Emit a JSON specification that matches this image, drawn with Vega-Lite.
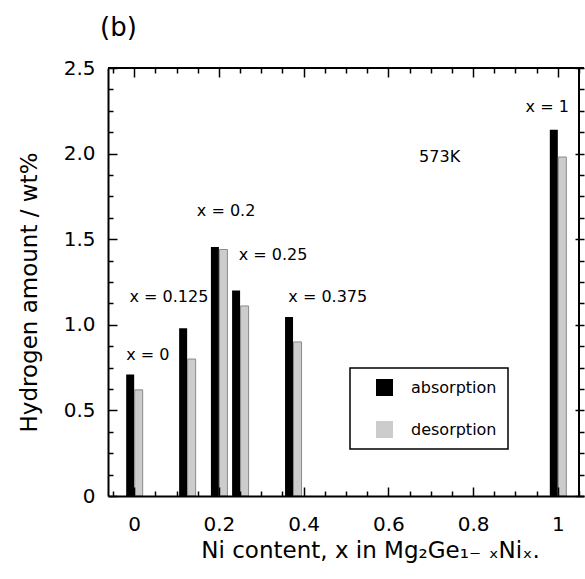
{
  "$schema": "https://vega.github.io/schema/vega-lite/v6.json",
  "autosize": "none",
  "width": 476,
  "height": 428,
  "padding": {"left": 108, "top": 68, "right": 1, "bottom": 83},
  "background": "white",
  "title": {"text": "(b)", "anchor": "start", "frame": "group", "fontSize": 26, "fontWeight": "normal", "color": "black", "dx": -8, "offset": 17},
  "config": {
    "font": "DejaVu Sans",
    "view": {"stroke": null},
    "axis": {"grid": false, "tickColor": "black", "domainColor": "black", "labelColor": "black", "titleColor": "black", "titleFontWeight": "normal"},
    "legend": {"strokeWidth": 1.5}
  },
  "datasets": {
    "bars": [
      {"x": 0, "amount": 0.71, "type": "absorption"},
      {"x": 0, "amount": 0.62, "type": "desorption"},
      {"x": 0.125, "amount": 0.98, "type": "absorption"},
      {"x": 0.125, "amount": 0.80, "type": "desorption"},
      {"x": 0.2, "amount": 1.455, "type": "absorption"},
      {"x": 0.2, "amount": 1.44, "type": "desorption"},
      {"x": 0.25, "amount": 1.20, "type": "absorption"},
      {"x": 0.25, "amount": 1.11, "type": "desorption"},
      {"x": 0.375, "amount": 1.045, "type": "absorption"},
      {"x": 0.375, "amount": 0.90, "type": "desorption"},
      {"x": 1, "amount": 2.14, "type": "absorption"},
      {"x": 1, "amount": 1.98, "type": "desorption"}
    ],
    "labels": [
      {"label": "x = 0", "lx": 0.032, "ly": 0.824},
      {"label": "x = 0.125", "lx": 0.082, "ly": 1.162},
      {"label": "x = 0.2", "lx": 0.217, "ly": 1.665},
      {"label": "x = 0.25", "lx": 0.328, "ly": 1.408},
      {"label": "x = 0.375", "lx": 0.457, "ly": 1.162},
      {"label": "x = 1", "lx": 0.975, "ly": 2.272},
      {"label": "573K", "lx": 0.721, "ly": 1.98}
    ],
    "frame": [{"top": 2.5, "right": 1.05}]
  },
  "layer": [
    {
      "data": {"name": "bars"},
      "transform": [{"filter": "datum.type === 'absorption'"}],
      "mark": {"type": "bar", "width": 8, "xOffset": -4},
      "encoding": {
        "x": {
          "field": "x", "type": "quantitative",
          "scale": {"domain": [-0.05, 1.05], "nice": false, "zero": false},
          "axis": {
            "orient": "bottom", "values": [0, 0.2, 0.4, 0.6, 0.8, 1],
            "labelExpr": "format(datum.value, '~g')",
            "ticks": false, "domain": true, "domainWidth": 2, "zindex": 1,
            "labelFontSize": 20, "labelPadding": 18,
            "title": "Ni content, x in Mg₂Ge₁₋ ₓNiₓ.",
            "titleFontSize": 23, "titleX": 262, "titleY": 61,
            "titleBaseline": "alphabetic", "titleAlign": "center"
          }
        },
        "y": {
          "field": "amount", "type": "quantitative",
          "scale": {"domain": [0, 2.5], "nice": false},
          "axis": {
            "orient": "left", "values": [0, 0.5, 1, 1.5, 2, 2.5],
            "labelExpr": "datum.value == 0 ? '0' : format(datum.value, '.1f')",
            "ticks": false, "domain": true, "domainWidth": 2, "zindex": 1,
            "labelFontSize": 20, "labelPadding": 13,
            "title": "Hydrogen amount / wt%",
            "titleFontSize": 23, "titleX": -72, "titleY": 224,
            "titleBaseline": "alphabetic", "titleAlign": "center", "titleAngle": -90
          }
        },
        "color": {
          "field": "type", "type": "nominal",
          "scale": {"domain": ["absorption", "desorption"], "range": ["#000000", "#cccccc"]},
          "legend": {
            "orient": "none", "legendX": 242, "legendY": 300, "title": null,
            "strokeColor": "black", "fillColor": "white", "padding": 11,
            "symbolType": "square", "symbolSize": 289, "symbolOffset": 15,
            "symbolStrokeWidth": 0, "labelOffset": 18, "rowPadding": 25,
            "labelFontSize": 16, "labelColor": "black"
          }
        }
      }
    },
    {
      "data": {"name": "bars"},
      "transform": [{"filter": "datum.type === 'desorption'"}],
      "mark": {"type": "bar", "width": 8, "xOffset": 4.5, "stroke": "#8a8a8a", "strokeWidth": 1},
      "encoding": {
        "x": {
          "field": "x", "type": "quantitative",
          "axis": {
            "orient": "bottom", "values": [0, 0.2, 0.4, 0.6, 0.8, 1], "offset": -9,
            "labels": false, "domain": false, "ticks": true, "zindex": 1,
            "tickWidth": 1.5, "tickSize": 9, "title": null
          }
        },
        "y": {
          "field": "amount", "type": "quantitative",
          "axis": {
            "orient": "left", "values": [0, 0.5, 1, 1.5, 2, 2.5], "offset": -9,
            "labels": false, "domain": false, "ticks": true, "zindex": 1,
            "tickWidth": 1.5, "tickSize": 9, "title": null
          }
        },
        "color": {"field": "type", "type": "nominal"}
      }
    },
    {
      "data": {"name": "labels"},
      "mark": {"type": "text", "fontSize": 16, "align": "center", "baseline": "middle", "color": "black"},
      "encoding": {
        "x": {
          "field": "lx", "type": "quantitative",
          "axis": {
            "orient": "top", "values": [0, 0.2, 0.4, 0.6, 0.8, 1], "offset": -9,
            "labels": false, "domain": false, "ticks": true, "zindex": 1,
            "tickWidth": 1.5, "tickSize": 9, "title": null
          }
        },
        "y": {
          "field": "ly", "type": "quantitative",
          "axis": {
            "orient": "right", "values": [0, 0.5, 1, 1.5, 2, 2.5], "offset": -9,
            "labels": false, "domain": false, "ticks": true, "zindex": 1,
            "tickWidth": 1.5, "tickSize": 9, "title": null
          }
        },
        "text": {"field": "label", "type": "nominal"}
      }
    },
    {
      "data": {"name": "bars"},
      "mark": {"type": "point", "opacity": 0},
      "encoding": {
        "x": {
          "field": "x", "type": "quantitative",
          "axis": {
            "orient": "bottom", "offset": -5,
            "values": [-0.05, 0.05, 0.1, 0.15, 0.25, 0.3, 0.35, 0.45, 0.5, 0.55, 0.65, 0.7, 0.75, 0.85, 0.9, 0.95, 1.05],
            "labels": false, "domain": false, "ticks": true, "zindex": 1,
            "tickWidth": 1.5, "tickSize": 5, "title": null
          }
        },
        "y": {
          "field": "amount", "type": "quantitative",
          "axis": {
            "orient": "left", "offset": -5,
            "values": [0.125, 0.25, 0.375, 0.625, 0.75, 0.875, 1.125, 1.25, 1.375, 1.625, 1.75, 1.875, 2.125, 2.25, 2.375],
            "labels": false, "domain": false, "ticks": true, "zindex": 1,
            "tickWidth": 1.5, "tickSize": 5, "title": null
          }
        }
      }
    },
    {
      "data": {"name": "bars"},
      "mark": {"type": "point", "opacity": 0},
      "encoding": {
        "x": {
          "field": "x", "type": "quantitative",
          "axis": {
            "orient": "top", "offset": -5,
            "values": [-0.05, 0.05, 0.1, 0.15, 0.25, 0.3, 0.35, 0.45, 0.5, 0.55, 0.65, 0.7, 0.75, 0.85, 0.9, 0.95, 1.05],
            "labels": false, "domain": true, "domainWidth": 0, "ticks": true, "zindex": 1,
            "tickWidth": 1.5, "tickSize": 5, "title": null
          }
        },
        "y": {
          "field": "amount", "type": "quantitative",
          "axis": {
            "orient": "right", "offset": -5,
            "values": [0.125, 0.25, 0.375, 0.625, 0.75, 0.875, 1.125, 1.25, 1.375, 1.625, 1.75, 1.875, 2.125, 2.25, 2.375],
            "labels": false, "domain": false, "ticks": true, "zindex": 1,
            "tickWidth": 1.5, "tickSize": 5, "title": null
          }
        }
      }
    },
    {
      "data": {"name": "frame"},
      "mark": {"type": "rule", "strokeWidth": 2, "color": "black"},
      "encoding": {"y": {"field": "top", "type": "quantitative", "axis": null}}
    },
    {
      "data": {"name": "frame"},
      "mark": {"type": "rule", "strokeWidth": 2, "color": "black"},
      "encoding": {"x": {"field": "right", "type": "quantitative", "axis": null}}
    }
  ],
  "resolve": {"axis": {"x": "independent", "y": "independent"}}
}
